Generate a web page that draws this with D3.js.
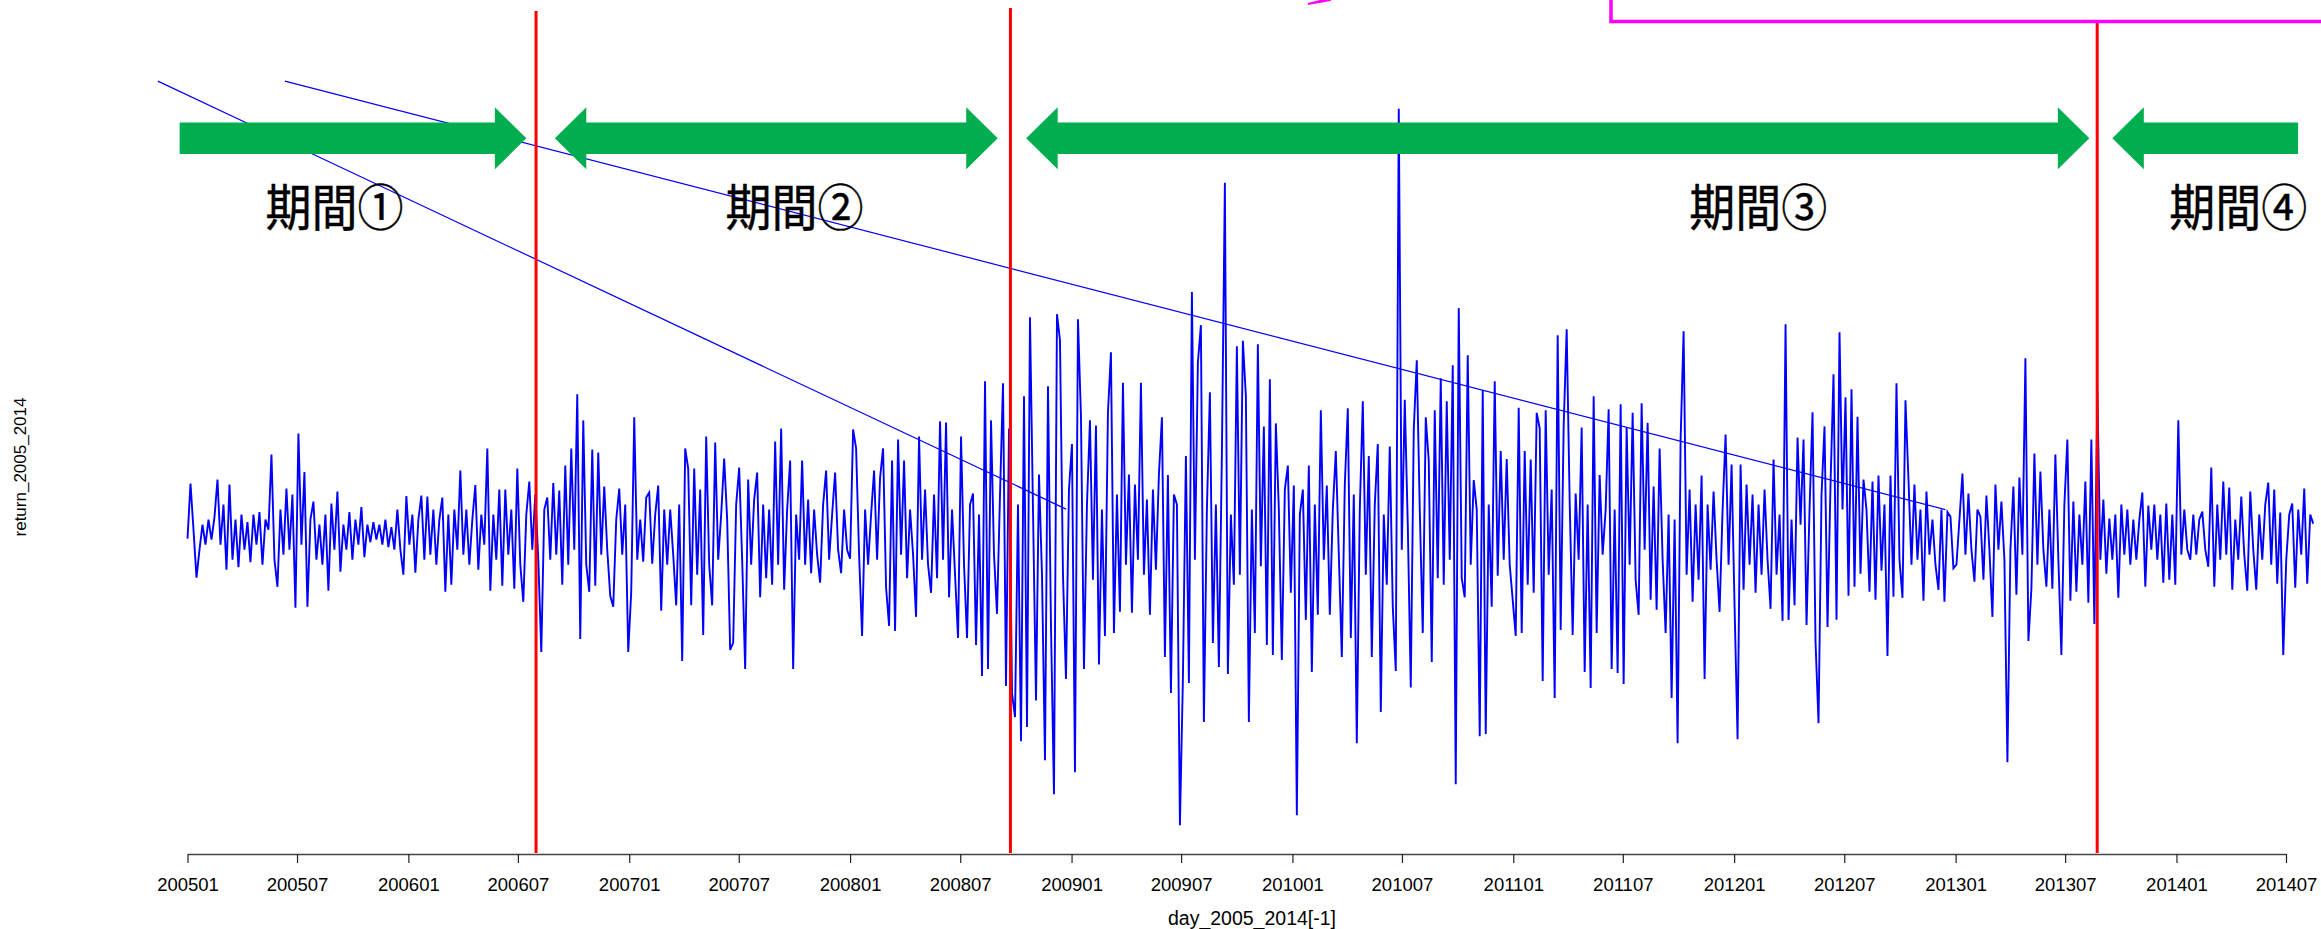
<!DOCTYPE html>
<html>
<head>
<meta charset="utf-8">
<script src="https://cdn.jsdelivr.net/npm/d3@7/dist/d3.min.js"></script>
<style>
  body { margin: 0; background: #fff; }
  svg { display: block; }
</style>
</head>
<body>
<svg id="chart" width="2321" height="929"></svg>
<script>
// daily returns (%), evenly spaced from seriesStart to seriesEnd
const seriesStart = "2005-01-01";
const seriesEnd = "2014-08-15";
const returns = [
  -0.08, 1.02, 0.1, -0.86, -0.3, 0.2, -0.2, 0.3, -0.1, 0.35,
  1.1, -0.2, 0.6, -0.7, 1.0, -0.5, 0.3, -0.65, 0.4, -0.3,
  0.25, -0.55, 0.4, -0.2, 0.45, -0.6, 0.3, 0.1, 1.6, -0.5,
  -1.04, 0.5, -0.4, 0.92, -0.3, 0.8, -1.46, 2.02, -0.2, 1.25,
  -1.44, 0.3, 0.66, -0.5, 0.2, -0.6, 0.4, -1.12, 0.62, -0.3,
  0.86, -0.74, 0.2, -0.3, 0.45, -0.5, 0.3, -0.2, 0.55, -0.45,
  0.2, -0.15, 0.25, -0.1, 0.2, -0.2, 0.3, -0.25, 0.15, -0.3,
  0.5, -0.3, -0.8, 0.77, -0.2, 0.4, -0.76, 0.3, 0.78, -0.5,
  0.76, -0.4, 0.5, -0.6, 0.3, 0.74, -1.14, 0.4, -1.0, 0.5,
  -0.3, 1.28, -0.4, 0.5, -0.6, 0.3, 0.99, -0.7, 0.4, -0.2,
  1.72, -1.12, 0.4, -0.5, 0.9, -1.02, 0.9, -0.4, 0.5, -1.08,
  1.32, -0.6, -1.34, 0.4, 1.06, -0.3, 0.8, -0.5, -2.34, 0.5,
  0.74, -0.5, 1.03, -0.4, 0.88, -1.0, 1.38, -0.6, 1.72, -0.3,
  2.8, -2.08, 2.28, -0.6, -1.14, 1.7, -1.02, 1.64, -0.4, 0.96,
  -0.3, -1.22, -1.44, 0.3, 0.92, -0.4, 0.6, -2.34, -1.14, 2.34,
  -0.5, 0.3, -0.54, 0.74, 0.84, -0.58, 0.4, 0.98, -1.52, 0.5,
  -0.6, 0.5, -0.4, -1.41, 0.6, -2.52, 1.72, 1.32, -1.41, 1.32,
  -0.8, 0.9, -2.0, 1.96, -0.6, -1.41, 1.84, -0.5, 0.4, 1.52,
  0.3, -2.3, -2.16, 0.6, 1.34, -0.5, -2.68, 1.1, -0.6, 0.7,
  1.24, -1.25, 0.6, -0.87, 0.5, -1.0, 1.86, -0.6, 2.12, -1.1,
  0.5, 1.48, -2.68, 0.4, -0.5, 1.48, -0.6, 0.7, -0.77, 0.5,
  -0.4, -0.96, 0.6, 1.28, -0.5, 0.4, 1.24, -0.3, -0.77, 0.5,
  -0.3, -0.48, 2.1, 1.72, -0.4, -2.02, 0.5, -0.6, 0.4, 1.28,
  -0.5, 1.14, 1.72, -1.06, -1.82, 1.48, -1.92, 1.9, -0.4, 1.48,
  -0.87, 0.5, -0.4, -1.64, 1.96, -0.5, 0.9, -0.6, -1.16, 0.8,
  -0.87, 2.26, -0.5, 2.24, -1.25, 0.5, -0.8, -2.06, 1.96, -0.6,
  -2.06, 0.6, 0.82, -2.2, 0.4, -2.82, 3.06, -2.68, 2.28, -0.4,
  -1.58, 0.8, 3.02, -3.02, 2.12, -3.16, -3.64, 0.6, -4.12, 2.76,
  -3.84, 4.34, 0.5, -3.31, 1.2, -0.8, -4.5, 2.96, -1.82, -5.18,
  4.4, 3.88, -0.8, -2.88, 0.9, 1.81, -4.74, 4.3, 2.36, -2.68,
  0.6, 2.28, -0.9, 2.18, -2.59, 0.5, -2.02, 2.44, 3.64, -1.96,
  0.8, -1.54, 3.03, -0.6, 1.2, -1.56, 1.0, -0.5, 3.03, -0.8,
  0.7, -1.6, 0.9, -0.7, 1.2, 2.34, -2.44, 1.19, -3.16, 0.8,
  0.6, -5.8, -2.88, 1.57, -2.96, 4.84, -0.5, 3.44, 4.18, -3.74,
  0.5, 2.84, -2.16, 0.6, -2.64, 1.6, 7.02, -2.78, 0.4, -1.0,
  3.76, -0.8, 3.87, 2.77, -3.74, 0.5, -1.96, 3.8, -0.63, 2.16,
  -2.2, 3.1, -2.4, 2.22, 0.5, -2.5, 0.9, 1.38, -1.16, 0.98,
  -5.6, 0.4, 0.9, -1.7, 1.38, -2.74, 0.6, -1.6, 2.48, -0.5,
  0.98, -1.6, 0.5, 1.67, -0.4, -2.44, 1.0, 2.52, -2.06, 0.8,
  -4.16, 0.5, 2.66, -0.8, 1.57, -2.44, 0.6, 1.81, -3.54, 0.4,
  -1.0, 1.76, -1.44, -2.72, 8.5, -0.3, 2.69, 0.2, -3.05, 2.1,
  3.48, 0.5, -1.96, 2.34, 1.47, -2.54, 2.48, -0.87, 3.12, -1.0,
  2.66, -0.5, 3.38, -4.98, 4.52, -0.87, -1.25, 3.58, -0.6, 1.09,
  0.5, -4.02, 2.88, -3.98, 0.6, -1.44, 3.06, -0.82, 1.67, -0.5,
  1.51, -0.6, -1.3, -2.02, 2.53, -1.96, 1.67, -1.0, 1.5, -1.16,
  2.43, 2.12, -2.92, 2.48, -0.8, 0.9, -3.26, 3.98, -1.9, 2.18,
  4.1, 0.66, -2.0, 0.82, -0.5, 2.14, -2.74, 0.6, -3.06, 2.76,
  -1.96, 1.19, -0.4, 0.5, 2.5, -2.68, 0.5, -2.76, 2.6, -2.98,
  2.14, -0.6, 2.43, -0.9, -1.6, 2.62, -0.3, 2.23, -1.3, 0.96,
  -1.5, 1.72, -0.5, -1.96, 0.4, -3.26, 0.3, -4.16, 1.9, 4.06,
  -0.8, 0.9, -1.34, 0.6, -0.9, 1.18, -2.88, 0.6, -0.7, 0.86,
  -0.5, -1.54, 0.5, 2.0, -0.6, 1.4, -1.44, -4.08, 1.4, -1.1,
  1.0, -0.6, 0.8, -1.16, 0.6, -0.8, 0.9, -0.5, -1.48, 1.5,
  -0.8, 0.4, -1.72, 4.2, -1.7, 0.3, -1.41, 1.94, 0.2, 1.9,
  -1.8, 0.5, 2.44, -2.14, -3.76, 0.8, 2.16, -1.84, 1.0, 3.2,
  -1.7, 4.04, 0.5, 2.74, -1.22, 2.9, -1.04, 2.35, -0.78, 1.1,
  0.5, -1.14, 1.06, -1.3, 1.18, -0.72, 0.6, -2.42, 1.18, -1.24,
  3.02, -0.5, -1.26, 2.68, 1.1, -0.6, 1.0, -0.5, 0.5, -1.32,
  0.86, -0.4, 0.3, -0.6, -1.1, 0.5, -1.34, 0.45, 0.36, -0.67,
  -0.6, 0.3, 1.22, -0.4, 0.82, -0.3, -0.94, 0.5, 0.36, -0.9,
  0.78, -0.3, -1.64, 1.0, -0.3, 0.66, -0.5, -4.54, -0.3, 0.96,
  -1.2, 1.14, -0.4, 3.52, -2.12, -1.08, 1.62, -0.6, 1.26, -0.3,
  -1.04, 0.5, -1.08, 1.6, -0.5, -2.4, 0.6, 1.9, -1.32, 0.66,
  -1.14, 0.4, -0.6, 1.06, -1.36, 1.9, -1.78, 2.86, -0.5, 0.7,
  -0.78, 0.32, -0.5, 0.4, -1.26, 0.6, -0.4, 0.5, -0.6, 0.3,
  -0.5, 0.3, 0.84, -1.04, 0.58, -0.3, 0.6, -0.5, 0.4, -0.96,
  0.62, -0.9, 0.4, -1.0, 2.28, -0.4, 0.5, -0.3, -0.5, 0.4,
  -0.4, 0.3, 0.46, -0.3, -0.64, 1.34, -1.04, 0.6, -0.5, 1.06,
  -0.4, 0.94, -1.1, 0.3, -0.5, 0.76, -0.4, -1.12, 0.86, -0.3,
  -1.1, 0.4, -0.5, 0.6, 1.04, -0.6, 0.9, -0.98, 0.44, -2.4,
  -0.5, 0.4, 0.62, -1.06, 0.5, -0.4, 0.92, -0.98, 0.4, 0.22
];

const tickLabels = ["200501", "200507", "200601", "200607", "200701", "200707",
  "200801", "200807", "200901", "200907", "201001", "201007", "201101",
  "201107", "201201", "201207", "201301", "201307", "201401", "201407"];

// two long stray segments of the plotted line (start, end)
const strayStart = [["2004-11-13", 9.05], ["2005-06-11", 9.05]];
const strayEnd = [["2008-12-23", 0.51], ["2012-12-15", 0.5]];

// period boundaries (red lines) and annotation arrows
const periodBreaks = ["2006-07-31", "2008-09-22", "2013-08-23"];
const periodLabels = ["期間①", "期間②", "期間③", "期間④"];
const labelDates = ["2005-09-01", "2007-10-01", "2012-02-10", "2014-04-13"];
const arrowSpans = [
  ["2004-12-19", "2006-07-15"],
  ["2006-08-31", "2008-09-01"],
  ["2008-10-18", "2013-08-10"],
  ["2013-09-17", "2014-07-21"]
];

const svg = d3.select("#chart");
const parse = d3.utcParse("%Y-%m-%d");
const parseYm = d3.utcParse("%Y%m");

const W = 2321;
const PLOT_TOP = 80;
const PLOT_BOTTOM = 854;

const tickDates = tickLabels.map(parseYm);
const x = d3.scaleUtc()
  .domain([tickDates[0], tickDates[tickDates.length - 1]])
  .range([187.5, 2286]);

const [lo, hi] = d3.extent(returns);
const pad = (hi - lo) * 0.04;
const y = d3.scaleLinear().domain([lo - pad, hi + pad]).range([PLOT_BOTTOM, PLOT_TOP]);

const t0 = parse(seriesStart).getTime();
const t1 = parse(seriesEnd).getTime();
const dateAt = d3.scaleLinear().domain([0, returns.length - 1]).range([t0, t1]);

svg.append("defs").append("clipPath").attr("id", "plot")
  .append("rect").attr("x", 0).attr("y", PLOT_TOP).attr("width", W).attr("height", PLOT_BOTTOM - PLOT_TOP);

// stray segments
svg.append("g").attr("clip-path", "url(#plot)")
  .selectAll("line").data(strayStart).join("line")
  .attr("x1", d => x(parse(d[0]))).attr("y1", d => y(d[1]))
  .attr("x2", (d, i) => x(parse(strayEnd[i][0]))).attr("y2", (d, i) => y(strayEnd[i][1]))
  .attr("stroke", "#0000ff").attr("stroke-width", 1.2);

// series
const line = d3.line()
  .x((d, i) => x(new Date(dateAt(i))))
  .y(d => y(d));
svg.append("path")
  .attr("d", line(returns))
  .attr("fill", "none")
  .attr("stroke", "#0000ff")
  .attr("stroke-width", 1.9)
  .attr("stroke-linejoin", "miter");

// x axis
const axis = svg.append("g")
  .attr("transform", `translate(0,${PLOT_BOTTOM})`)
  .call(d3.axisBottom(x).tickValues(tickDates).tickFormat(d3.utcFormat("%Y%m"))
    .tickSize(9).tickSizeOuter(0).tickPadding(15));
axis.select(".domain").attr("stroke", "#444").attr("stroke-width", 1.4);
axis.selectAll(".tick line").attr("stroke", "#222").attr("stroke-width", 1.2);
axis.selectAll(".tick text")
  .attr("fill", "#000")
  .style("font-family", "'Liberation Sans', Arial, sans-serif")
  .style("font-size", "18.5px");

svg.append("text")
  .attr("x", 1252).attr("y", 925)
  .attr("text-anchor", "middle")
  .style("font-family", "'Liberation Sans', Arial, sans-serif")
  .style("font-size", "19.5px")
  .text("day_2005_2014[-1]");

svg.append("text")
  .attr("transform", "translate(26,467) rotate(-90)")
  .attr("text-anchor", "middle")
  .style("font-family", "'Liberation Sans', Arial, sans-serif")
  .style("font-size", "17px")
  .text("return_2005_2014");

// red period boundaries
const breakTops = [11, 8, 22];
svg.append("g").selectAll("line").data(periodBreaks).join("line")
  .attr("x1", d => x(parse(d))).attr("x2", d => x(parse(d)))
  .attr("y1", (d, i) => breakTops[i]).attr("y2", PLOT_BOTTOM - 1)
  .attr("stroke", "#ff0000").attr("stroke-width", 3);

// green arrows
const CY = 138.3, BODY = 15.7, HEAD = 31, HEAD_LEN = 31.5;
const arrowPath = (x0, x1, leftHead, rightHead) => {
  const xl = leftHead ? x0 + HEAD_LEN : x0;
  const xr = rightHead ? x1 - HEAD_LEN : x1;
  const pts = [[xl, CY - BODY], [xr, CY - BODY]];
  if (rightHead) pts.push([xr, CY - HEAD], [x1, CY], [xr, CY + HEAD]);
  pts.push([xr, CY + BODY], [xl, CY + BODY]);
  if (leftHead) pts.push([xl, CY + HEAD], [x0, CY], [xl, CY - HEAD]);
  return d3.line()(pts) + "Z";
};
svg.append("g").selectAll("path").data(arrowSpans).join("path")
  .attr("d", (d, i) => arrowPath(x(parse(d[0])), x(parse(d[1])), i > 0, i < arrowSpans.length - 1))
  .attr("fill", "#00ae50");

svg.append("g").selectAll("text").data(periodLabels).join("text")
  .attr("x", (d, i) => x(parse(labelDates[i])))
  .attr("y", 226)
  .attr("text-anchor", "middle")
  .attr("textLength", 138)
  .attr("lengthAdjust", "spacingAndGlyphs")
  .style("font-family", "'Noto Sans CJK JP', sans-serif")
  .style("font-size", "50px")
  .attr("fill", "#000")
  .attr("stroke", "#000")
  .attr("stroke-width", 0.45)
  .text(d => d);

// magenta callout fragments at the top edge
svg.append("path")
  .attr("d", "M1611,0 V21.5 H2321")
  .attr("fill", "none").attr("stroke", "#ff00ff").attr("stroke-width", 3.5);
svg.append("path")
  .attr("d", "M1308,4 L1332,-2 L1330,0 Z")
  .attr("fill", "#ff00ff").attr("stroke", "#ff00ff").attr("stroke-width", 2);
</script>
</body>
</html>
